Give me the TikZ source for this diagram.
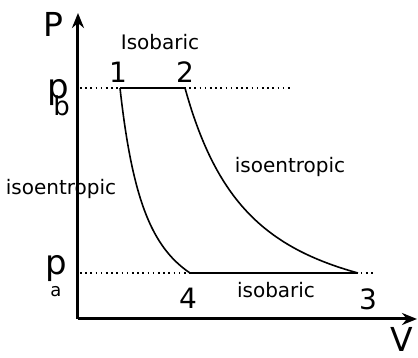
\documentclass[tikz,border=0pt]{standalone}
\usepackage{fontspec}
\setmainfont{DejaVu Sans}
\usetikzlibrary{arrows.meta,positioning}

\begin{document}
\begin{tikzpicture}[x=0.5pt, y=0.5pt, >={Stealth[length=7.5pt, width=6pt]},
  font=\fontsize{10}{12}\selectfont, inner sep=0pt,
  axis/.style={->, line width=1.5pt},
  cycleline/.style={line width=0.8pt},
  guide/.style={line width=0.8pt, dash pattern=on 0.8pt off 1.8pt},
  axislbl/.style={font=\fontsize{16.5}{18}\selectfont},
  pointlbl/.style={font=\fontsize{14}{16}\selectfont},
  preslbl/.style={font=\fontsize{17}{18}\selectfont, anchor=base west}]
  \useasboundingbox (-78,-39) rectangle (340,319);

  % state points
  \coordinate (O) at (0,0);
  \coordinate (s1) at (42,231);
  \coordinate (s2) at (107,231);
  \coordinate (s3) at (280,46);
  \coordinate (s4) at (112,46);
  \coordinate (pb0) at (2,231);
  \coordinate (pb1) at (215,231);
  \coordinate (pa0) at (2,46);
  \coordinate (pa1) at (298,46);
  \coordinate (ytip) at (0,306);
  \coordinate (xtip) at (339,0);

  \draw[guide] (pb0) -- (pb1);
  \draw[guide] (pa0) -- (pa1);
  \draw[axis] (O) -- (ytip);
  \draw[axis] (O) -- (xtip);

  \draw[cycleline] (s1) -- (s2);
  \draw[cycleline] (s4) -- (s3);
  \draw[cycleline] plot[domain=42:112, samples=60, smooth] (\x, {231*pow(42/\x,1.645)});
  \draw[cycleline] plot[domain=107:280, samples=80, smooth] (\x, {231*pow(107/\x,1.678)});

  \node[axislbl, anchor=base] (P) at (-25,282) {P};
  \node[axislbl, anchor=base] (V) at (324,-33) {V};
  \node[preslbl] (pb) at (-31,220) {p\kern-7.8pt\raisebox{-8.5pt}{\fontsize{13}{13}\selectfont b}};
  \node[preslbl] (pa) at (-33,44) {p\kern-8.3pt\raisebox{-11pt}{\fontsize{9}{9}\selectfont a}};

  \node[pointlbl, above=2.5pt of s1, xshift=-1pt] (n1) {1};
  \node[pointlbl, above=2.5pt of s2] (n2) {2};
  \node[pointlbl, below=7.5pt of s3, xshift=5pt] (n3) {3};
  \node[pointlbl, below=7.5pt of s4, xshift=-1pt] (n4) {4};

  \node[anchor=base] (isoTop) at (82,269) {Isobaric};
  \node[anchor=base] (isoBot) at (198,21) {isobaric};
  \node[anchor=base] (isenL) at (-17,124) {isoentropic};
  \node[anchor=base] (isenR) at (212,146) {isoentropic};
\end{tikzpicture}
\end{document}
